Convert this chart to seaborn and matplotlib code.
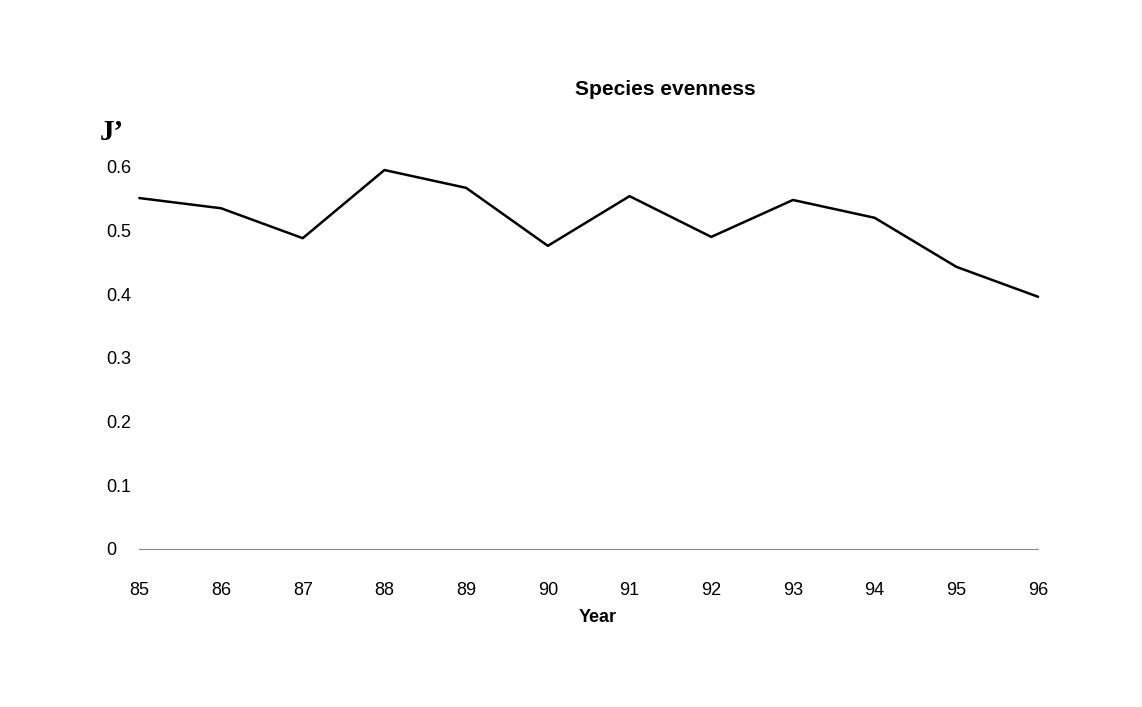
import pandas as pd
import matplotlib
matplotlib.use("Agg")
import matplotlib.pyplot as plt
import seaborn as sns

years = [85, 86, 87, 88, 89, 90, 91, 92, 93, 94, 95, 96]
evenness = [0.551, 0.535, 0.488, 0.595, 0.567, 0.476, 0.554, 0.490, 0.548, 0.520, 0.443, 0.396]
y_ticks = [0, 0.1, 0.2, 0.3, 0.4, 0.5, 0.6]
y_labels = ["0", "0.1", "0.2", "0.3", "0.4", "0.5", "0.6"]

df = pd.DataFrame({"year": years, "J": evenness})

sns.set_style("white")
plt.rcParams["font.family"] = ["Liberation Sans", "DejaVu Sans"]

fig = plt.figure(figsize=(11.42, 7.07), dpi=100)
ax = fig.add_axes([0.122, 0.2235, 0.787, 0.5405])

sns.lineplot(x="year", y="J", data=df, ax=ax, color="black", linewidth=1.8, clip_on=False)

ax.set_xlim(85, 96)
ax.set_ylim(0, 0.6)
ax.set_xticks(years)
ax.set_xticklabels([str(y) for y in years], fontsize=13, color="black")
ax.set_yticks(y_ticks)
ax.set_yticklabels(y_labels, fontsize=13, color="black")
ax.tick_params(axis="x", length=0, pad=24)
ax.tick_params(axis="y", length=2, width=1, color="#999999", pad=22)
for lbl in ax.get_yticklabels():
    lbl.set_horizontalalignment("left")

for side in ["top", "right", "left"]:
    ax.spines[side].set_visible(False)
ax.spines["bottom"].set_color("#888888")
ax.spines["bottom"].set_linewidth(0.8)
ax.spines["bottom"].set_linestyle((0, (4, 1)))

ax.set_xlabel("")
ax.set_ylabel("")

fig.text(0.583, 0.873, "Species evenness", ha="center", va="center",
         fontsize=15, fontweight="bold", color="black")
fig.text(0.523, 0.126, "Year", ha="center", va="center",
         fontsize=13, fontweight="bold", color="black")
fig.text(0.087, 0.813, "J\u2019", ha="left", va="center", color="black",
         fontsize=21, fontweight="bold", family=["Liberation Serif", "DejaVu Serif"])

fig.savefig("out.png", dpi=100)
